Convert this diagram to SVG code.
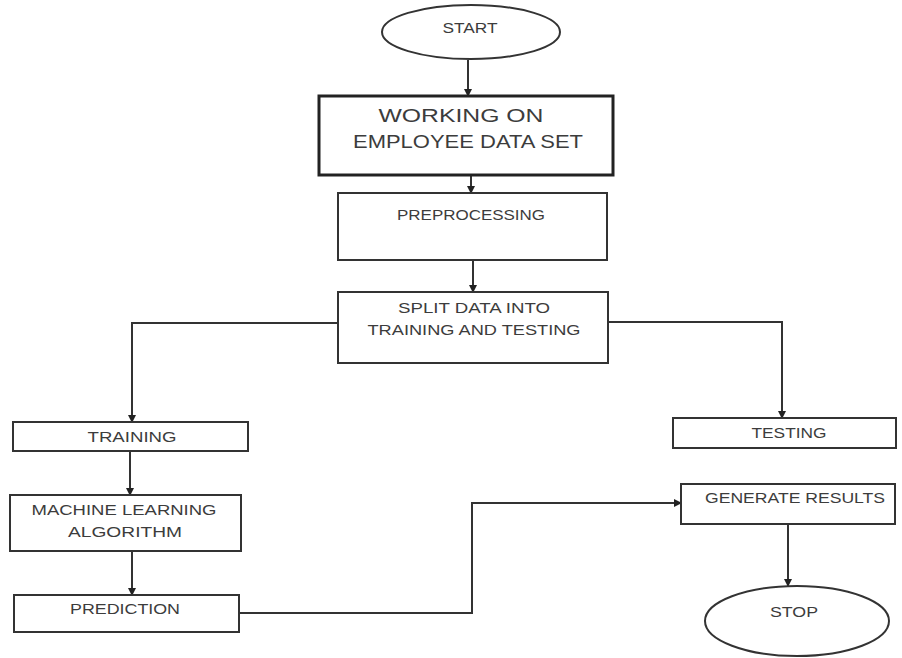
<svg xmlns="http://www.w3.org/2000/svg" width="902" height="658" viewBox="0 0 902 658">
<defs>
<marker id="ah" markerWidth="8" markerHeight="8" refX="7" refY="4" orient="auto" markerUnits="userSpaceOnUse">
<path d="M0,0 L8,4 L0,8 Z" fill="#222"/>
</marker>
<style>
.box{fill:#fff;stroke:#333;stroke-width:2}
.thick{stroke-width:3;stroke:#222}
.t{font-family:"Liberation Sans",Arial,sans-serif;fill:#3c3c3c;text-anchor:middle}
.c{fill:none;stroke:#333;stroke-width:2}
</style>
</defs>
<rect width="902" height="658" fill="#fff"/>
<g id="connectors">
<path class="c" d="M468,60 L468,96" marker-end="url(#ah)"/>
<path class="c" d="M471,175 L471,193" marker-end="url(#ah)"/>
<path class="c" d="M473,260 L473,292" marker-end="url(#ah)"/>
<path class="c" d="M338,323 L132,323 L132,422" marker-end="url(#ah)"/>
<path class="c" d="M608,322 L782,322 L782,418" marker-end="url(#ah)"/>
<path class="c" d="M130,451 L130,495" marker-end="url(#ah)"/>
<path class="c" d="M132,551 L132,595" marker-end="url(#ah)"/>
<path class="c" d="M239,613 L472,613 L472,503 L681,503" marker-end="url(#ah)"/>
<path class="c" d="M788,524 L788,586" marker-end="url(#ah)"/>
</g>
<g id="start">
<ellipse class="box" cx="471" cy="32" rx="89" ry="27"/>
<text class="t" x="470" y="33" font-size="14" textLength="55" lengthAdjust="spacingAndGlyphs">START</text>
</g>
<g id="working">
<rect class="box thick" x="319" y="96" width="294" height="79"/>
<text class="t" x="461" y="122" font-size="18" textLength="165" lengthAdjust="spacingAndGlyphs">WORKING ON</text>
<text class="t" x="468" y="148" font-size="18" textLength="230" lengthAdjust="spacingAndGlyphs">EMPLOYEE DATA SET</text>
</g>
<g id="preprocessing">
<rect class="box" x="338" y="193" width="269" height="67"/>
<text class="t" x="471" y="220" font-size="15" textLength="148" lengthAdjust="spacingAndGlyphs">PREPROCESSING</text>
</g>
<g id="split">
<rect class="box" x="338" y="292" width="270" height="71"/>
<text class="t" x="474" y="313" font-size="14" textLength="152" lengthAdjust="spacingAndGlyphs">SPLIT DATA INTO</text>
<text class="t" x="474" y="335" font-size="15" textLength="213" lengthAdjust="spacingAndGlyphs">TRAINING AND TESTING</text>
</g>
<g id="training">
<rect class="box" x="13" y="422" width="235" height="29"/>
<text class="t" x="132" y="442" font-size="14" textLength="89" lengthAdjust="spacingAndGlyphs">TRAINING</text>
</g>
<g id="testing">
<rect class="box" x="673" y="418" width="223" height="30"/>
<text class="t" x="789" y="438" font-size="14" textLength="75" lengthAdjust="spacingAndGlyphs">TESTING</text>
</g>
<g id="ml">
<rect class="box" x="10" y="495" width="231" height="56"/>
<text class="t" x="124" y="515" font-size="14" textLength="185" lengthAdjust="spacingAndGlyphs">MACHINE LEARNING</text>
<text class="t" x="125" y="537" font-size="14" textLength="114" lengthAdjust="spacingAndGlyphs">ALGORITHM</text>
</g>
<g id="prediction">
<rect class="box" x="14" y="595" width="225" height="37"/>
<text class="t" x="125" y="614" font-size="14" textLength="110" lengthAdjust="spacingAndGlyphs">PREDICTION</text>
</g>
<g id="generate">
<rect class="box" x="681" y="484" width="214" height="40"/>
<text class="t" x="795" y="503" font-size="15" textLength="180" lengthAdjust="spacingAndGlyphs">GENERATE RESULTS</text>
</g>
<g id="stop">
<ellipse class="box" cx="797" cy="621" rx="92" ry="35"/>
<text class="t" x="794" y="617" font-size="14" textLength="48" lengthAdjust="spacingAndGlyphs">STOP</text>
</g>
</svg>
